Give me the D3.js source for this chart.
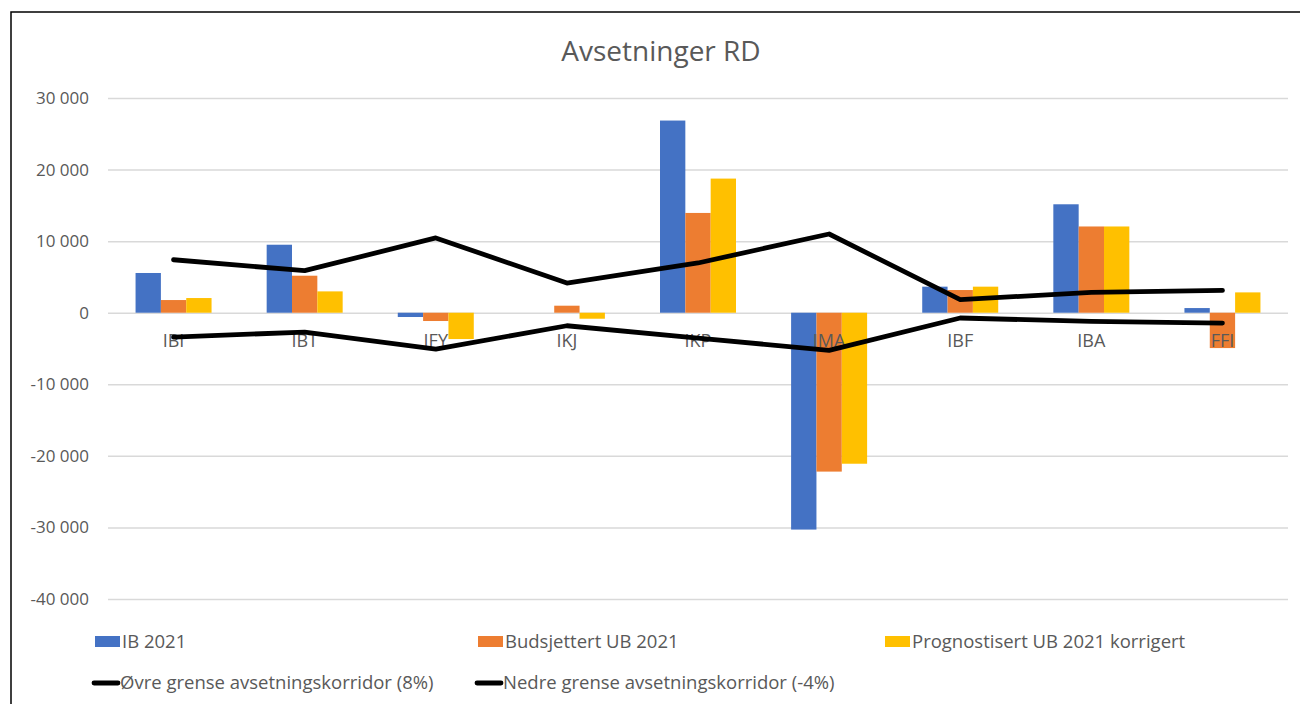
<!DOCTYPE html>
<html>
<head>
<meta charset="utf-8">
<script src="https://cdn.jsdelivr.net/npm/d3@7"></script>
<style>
  html, body { margin: 0; padding: 0; background: #fff; }
  svg { display: block; }
  text { font-family: "Open Sans", "Liberation Sans", sans-serif; fill: #595959; }
</style>
</head>
<body>
<svg id="chart" width="1300" height="704"></svg>
<script>
// ---- Data ----
const title = "Avsetninger RD";
const categories = ["IBI", "IBT", "IFY", "IKJ", "IKP", "IMA", "IBF", "IBA", "FFI"];
const barSeriesNames = ["IB 2021", "Budsjettert UB 2021", "Prognostisert UB 2021 korrigert"];
const ib2021 = [5550, 9500, -600, 0, 26850, -30300, 3640, 15150, 650];
const budsjettert = [1770, 5170, -1160, 980, 13940, -22200, 3170, 12050, -4940];
const prognostisert = [2050, 2980, -3680, -840, 18740, -21100, 3640, 12050, 2840];
const lineSeriesNames = ["Øvre grense avsetningskorridor (8%)", "Nedre grense avsetningskorridor (-4%)"];
const ovreGrense = [7400, 5870, 10450, 4150, 6950, 11000, 1820, 2840, 3120];
const nedreGrense = [-3400, -2700, -5080, -1820, -3540, -5270, -740, -1210, -1450];
const yTicks = [-40000, -30000, -20000, -10000, 0, 10000, 20000, 30000];

const barColors = ["#4472C4", "#ED7D31", "#FFC000"];
const lineColor = "#000000";

// ---- Layout ----
const svg = d3.select("#chart");
const W = 1300, H = 704;
const plot = { left: 108, right: 1288, top: 98, bottom: 599 };

// outer frame
svg.append("rect")
  .attr("x", 11).attr("y", 12)
  .attr("width", W).attr("height", H)
  .attr("fill", "#fff").attr("stroke", "#000").attr("stroke-width", 1.5);

const locale = d3.formatLocale({ decimal: ",", thousands: "\u00a0", grouping: [3], currency: ["", ""], minus: "-" });
const fmt = locale.format(",d");

const y = d3.scaleLinear().domain([-40000, 30000]).range([plot.bottom, plot.top]);
const x0 = d3.scaleBand().domain(categories).range([plot.left, plot.right]).padding(0);
const groupW = 76;
const x1 = d3.scaleBand().domain([0, 1, 2]).range([0, groupW]).padding(0);
const groupOffset = (x0.bandwidth() - groupW) / 2;

// title
svg.append("text")
  .attr("x", 661).attr("y", 61)
  .attr("text-anchor", "middle")
  .style("font-size", "28px")
  .text(title);

// gridlines
const yAxis = d3.axisLeft(y).tickValues(yTicks).tickFormat(fmt).tickSize(-(plot.right - plot.left)).tickPadding(19);
const gAxis = svg.append("g").attr("transform", `translate(${plot.left},0)`).call(yAxis);
gAxis.select(".domain").remove();
gAxis.selectAll(".tick line").attr("stroke", "#D9D9D9").attr("stroke-width", 1.5);
gAxis.selectAll(".tick text").style("font-size", "17px").attr("fill", "#595959").style("font-family", "'Open Sans', sans-serif");

// bars
const seriesArr = [ib2021, budsjettert, prognostisert];
const gBars = svg.append("g");
seriesArr.forEach((vals, si) => {
  gBars.selectAll(null)
    .data(vals.map((v, i) => ({ cat: categories[i], v })))
    .enter().append("rect")
    .attr("x", d => x0(d.cat) + groupOffset + x1(si))
    .attr("width", x1.bandwidth())
    .attr("y", d => y(Math.max(0, d.v)))
    .attr("height", d => Math.abs(y(d.v) - y(0)))
    .attr("fill", barColors[si]);
});

// category labels (at zero line)
svg.append("g").selectAll("text")
  .data(categories).enter().append("text")
  .attr("x", d => x0(d) + x0.bandwidth() / 2)
  .attr("y", y(0) + 34)
  .attr("text-anchor", "middle")
  .style("font-size", "18px")
  .text(d => d);

// lines
const line = d3.line()
  .x((d, i) => x0(categories[i]) + x0.bandwidth() / 2)
  .y(d => y(d));
[ovreGrense, nedreGrense].forEach(vals => {
  svg.append("path")
    .datum(vals)
    .attr("d", line)
    .attr("fill", "none")
    .attr("stroke", lineColor)
    .attr("stroke-width", 4.8)
    .attr("stroke-linejoin", "round")
    .attr("stroke-linecap", "round");
});

// legend
const legendFont = "18.5px";
const row1Y = 642, row2Y = 683;
const barLegendX = [95, 478, 885];
barSeriesNames.forEach((name, i) => {
  svg.append("rect")
    .attr("x", barLegendX[i]).attr("y", row1Y - 6)
    .attr("width", 25).attr("height", 11)
    .attr("fill", barColors[i]);
  svg.append("text")
    .attr("x", barLegendX[i] + 27).attr("y", row1Y + 6)
    .style("font-size", legendFont)
    .text(name);
});
const lineLegendX = [94, 477];
lineSeriesNames.forEach((name, i) => {
  svg.append("line")
    .attr("x1", lineLegendX[i]).attr("x2", lineLegendX[i] + 24)
    .attr("y1", row2Y).attr("y2", row2Y)
    .attr("stroke", lineColor).attr("stroke-width", 4.8)
    .attr("stroke-linecap", "round");
  svg.append("text")
    .attr("x", lineLegendX[i] + 26).attr("y", row2Y + 6)
    .style("font-size", legendFont)
    .text(name);
});
</script>
</body>
</html>
